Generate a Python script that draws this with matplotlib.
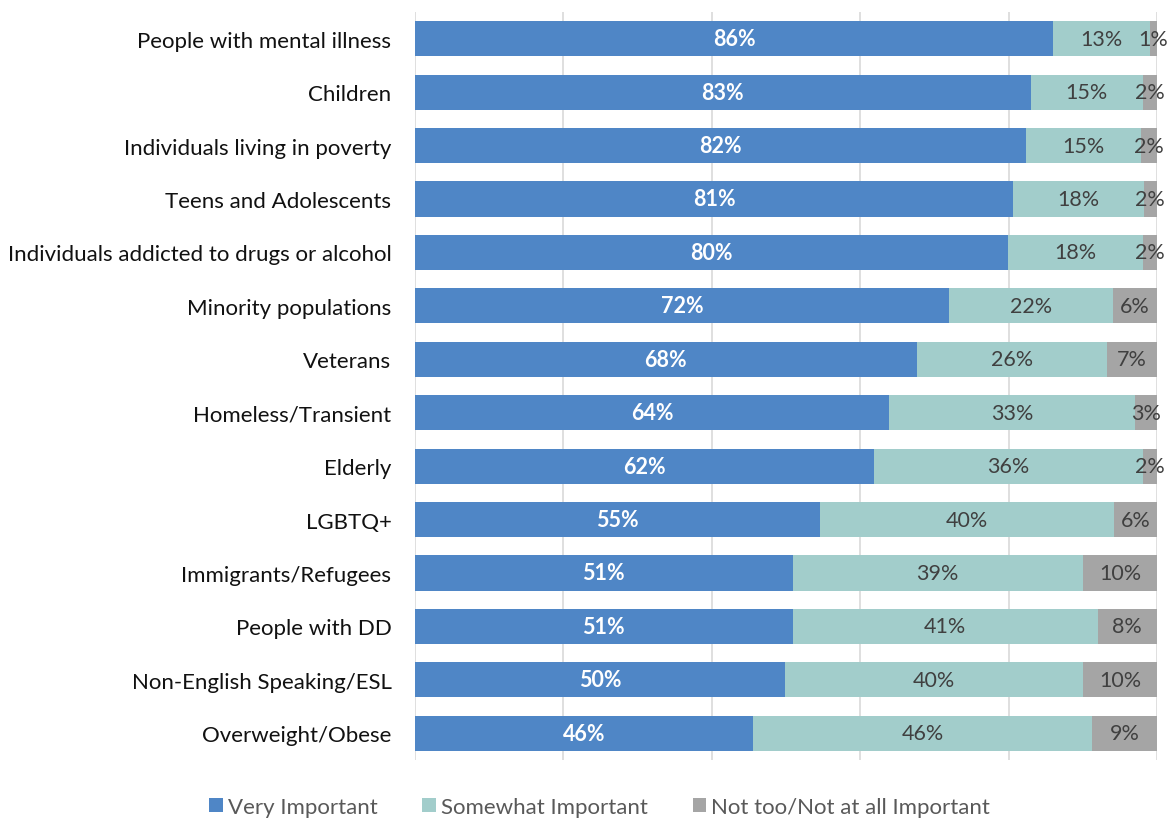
import matplotlib
matplotlib.use("Agg")
import matplotlib.pyplot as plt
from matplotlib.patches import Patch
import numpy as np

categories = ["People with mental illness", "Children", "Individuals living in poverty",
              "Teens and Adolescents", "Individuals addicted to drugs or alcohol",
              "Minority populations", "Veterans", "Homeless/Transient", "Elderly",
              "LGBTQ+", "Immigrants/Refugees", "People with DD",
              "Non-English Speaking/ESL", "Overweight/Obese"]
very = [86.0, 83.0, 82.4, 80.6, 79.9, 72.0, 67.6, 63.9, 61.9, 54.6, 50.9, 50.9, 49.9, 45.6]
somewhat = [13.1, 15.1, 15.4, 17.6, 18.2, 22.1, 25.6, 33.1, 36.2, 39.6, 39.1, 41.1, 40.1, 45.6]
not_imp = [0.9, 1.9, 2.2, 1.8, 1.9, 5.9, 6.8, 3.0, 1.9, 5.8, 10.0, 8.0, 10.0, 8.8]
series_names = ["Very Important", "Somewhat Important", "Not too/Not at all Important"]

colors = ["#4F86C6", "#A2CDCB", "#A5A5A5"]
plt.rcParams['font.family'] = ['Lato', 'DejaVu Sans']

fig = plt.figure(figsize=(11.67, 8.2), dpi=100)
ax = fig.add_axes([415/1167, 1 - 761/820, (1157-415)/1167, (761-13)/820])

y = np.arange(len(categories))
left = np.zeros(len(categories))
for i, vals in enumerate([very, somewhat, not_imp]):
    vals = np.array(vals)
    ax.barh(y, vals, left=left, height=0.66, color=colors[i], zorder=2)
    for yi, (l, v) in enumerate(zip(left, vals)):
        txt = f"{round(v):d}%"
        if i == 0:
            ax.text(l + v/2, yi, txt, ha="center", va="center", color="white",
                    fontsize=15.5, fontweight="bold", zorder=3)
        else:
            ax.text(l + v/2, yi, txt, ha="center", va="center", color="#404040",
                    fontsize=15.5, zorder=3)
    left = left + vals

ax.set_xlim(0, 100)
ax.set_ylim(len(categories) - 0.5, -0.5)
ax.set_yticks(y)
ax.set_yticklabels(categories, fontsize=16, color="#111111")
ax.set_xticks([0, 20, 40, 60, 80, 100])
ax.set_xticklabels([])
ax.tick_params(axis="x", length=0)
ax.tick_params(axis="y", length=0, pad=17)
ax.grid(axis="x", color="#D9D9D9", linewidth=1.2, zorder=0)
for s in ax.spines.values():
    s.set_visible(False)

handles = [Patch(facecolor=c, edgecolor="none") for c in colors]
fig.legend(handles, series_names, loc="center", bbox_to_anchor=(0.514, 1 - 808/820),
           ncol=3, frameon=False, fontsize=16, handlelength=0.6, handleheight=0.6,
           handletextpad=0.25, columnspacing=2.0, labelcolor="#595959")

fig.savefig("out.png", dpi=100)
